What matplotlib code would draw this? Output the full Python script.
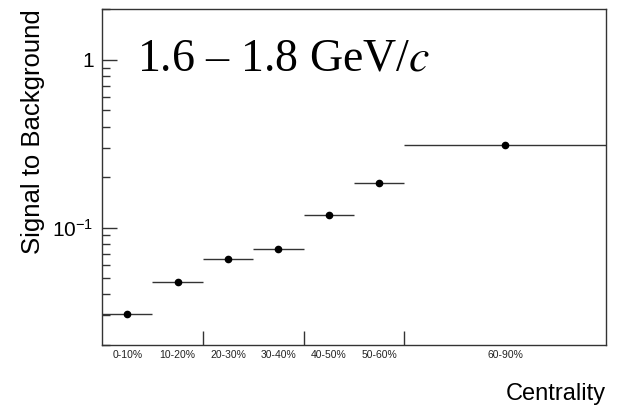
import matplotlib
matplotlib.use("Agg")
import matplotlib.pyplot as plt
from matplotlib.ticker import LogLocator, NullFormatter, FixedLocator

plt.rcParams['font.family'] = ['Liberation Sans', 'DejaVu Sans']
plt.rcParams['mathtext.fontset'] = 'custom'
plt.rcParams['mathtext.rm'] = 'Liberation Sans'
plt.rcParams['mathtext.it'] = 'Liberation Sans:italic'

# centrality bins and signal/background ratio
bin_edges = [0, 10, 20, 30, 40, 50, 60, 100]
bin_labels = ['0-10%', '10-20%', '20-30%', '30-40%', '40-50%', '50-60%', '60-90%']
sig_to_bkg = [0.0308, 0.0474, 0.0648, 0.0750, 0.119, 0.184, 0.310]

centers = [(a + b) / 2 for a, b in zip(bin_edges[:-1], bin_edges[1:])]
half_w = [(b - a) / 2 for a, b in zip(bin_edges[:-1], bin_edges[1:])]

fig = plt.figure(figsize=(6.17, 4.07), dpi=100)
ax = fig.add_axes([0.1653, 0.1523, 0.8169, 0.8247])

ax.errorbar(centers, sig_to_bkg, xerr=half_w, fmt='o', color='black',
            ecolor='#333333', elinewidth=1.0, markersize=4.5, capsize=0)

ax.set_yscale('log')
ax.set_ylim(0.02, 2.0)
ax.set_xlim(0, 100)

for s in ax.spines.values():
    s.set_color('#333333')
    s.set_linewidth(1.0)

# y axis: ticks on the left only, pointing in
ax.yaxis.set_major_locator(FixedLocator([0.1, 1.0]))
ax.set_yticklabels([r'$10^{-1}$', '1'])
ax.yaxis.set_minor_locator(LogLocator(base=10, subs=range(2, 10)))
ax.yaxis.set_minor_formatter(NullFormatter())
ax.tick_params(axis='y', which='major', direction='in', length=11, width=1,
               color='#333333', labelsize=15, pad=6, right=False)
ax.tick_params(axis='y', which='minor', direction='in', length=6, width=1,
               color='#333333', right=False)

# x axis: ticks at 20/40/60, bin names written below
ax.set_xticks([20, 40, 60])
ax.set_xticklabels([])
ax.tick_params(axis='x', which='major', direction='in', length=10, width=1,
               color='#333333', top=False)
ax.tick_params(axis='x', which='minor', bottom=False, top=False)
for c, lab in zip(centers, bin_labels):
    ax.annotate(lab, xy=(c, 0), xycoords=('data', 'axes fraction'),
                xytext=(0, -7.5), textcoords='offset points',
                ha='center', va='center', fontsize=7.5, color='#222222')

ax.set_ylabel('Signal to Background', fontsize=18.5)
ax.yaxis.set_label_coords(-0.114, 1.0)
ax.yaxis.label.set_horizontalalignment('right')

fig.text(0.9822, 0.018, 'Centrality', ha='right', va='baseline', fontsize=17)

ax.text(0.069, 0.817, r'1.6 – 1.8 GeV/$c$', transform=ax.transAxes,
        fontsize=33, family='Liberation Serif', va='baseline', ha='left',
        math_fontfamily='stix')

fig.savefig('out.png', dpi=100)
